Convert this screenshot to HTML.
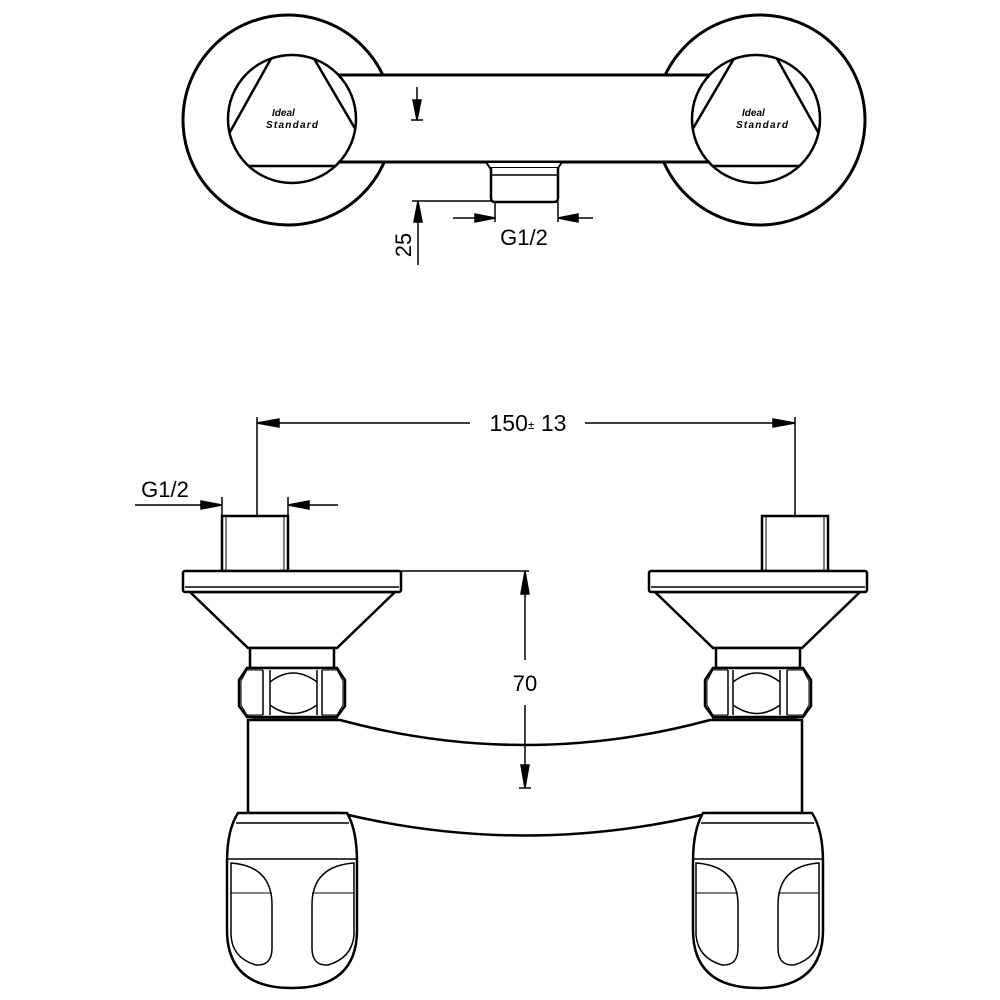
<!DOCTYPE html>
<html><head><meta charset="utf-8"><style>
html,body{margin:0;padding:0;background:#fff}
svg{display:block}
text{font-family:"Liberation Sans",sans-serif;fill:#000}
</style></head><body>
<svg width="1000" height="1000" viewBox="0 0 1000 1000" xmlns="http://www.w3.org/2000/svg">
<defs>
<clipPath id="cL"><circle cx="292" cy="119" r="64"/></clipPath>
<g id="topunit">
  <circle cx="288" cy="120" r="105" fill="#fff" stroke="#000" stroke-width="3"/>
</g>
<g id="topinner">
  <g fill="none" stroke="#000" stroke-width="2.5">
    <polygon points="292,21 211,166 377,166" clip-path="url(#cL)"/>
    <circle cx="292" cy="119" r="64"/>
  </g>
</g>
<g id="unit" fill="#fff" stroke="#000" stroke-width="2.5">
  <rect x="222" y="516" width="66" height="55"/>
  <line x1="226" y1="516" x2="226" y2="571" stroke-width="1"/>
  <line x1="284" y1="516" x2="284" y2="571" stroke-width="1"/>
  <polygon points="190,592 395,592 337,648 248,648"/>
  <rect x="183" y="571" width="218" height="21" rx="2"/>
  <line x1="185" y1="587" x2="399" y2="587" stroke-width="1.5"/>
  <rect x="250" y="648" width="84" height="20"/>
  <polygon points="247,668 337,668 345,680 345,706 337,717 247,717 239,706 239,680"/>
  <line x1="263" y1="670" x2="263" y2="715" stroke-width="1.5"/>
  <line x1="270" y1="670" x2="270" y2="715" stroke-width="1.5"/>
  <line x1="317" y1="670" x2="317" y2="715" stroke-width="1.5"/>
  <line x1="322" y1="670" x2="322" y2="715" stroke-width="1.5"/>
  <path d="M270,682 Q293,664 317,682 M270,705 Q293,722 317,705" fill="none" stroke-width="1.5"/>
  <path d="M263,670 L247,670 L241,681 L241,705 L247,715 L263,715 M322,670 L337,670 L343,681 L343,705 L337,715 L322,715" fill="none" stroke-width="1"/>
  <line x1="252" y1="719" x2="338" y2="719" stroke-width="1.5"/>
  <path d="M238,813 L347,813 Q357,830 357,862 L357,930 Q357,988 292,988 Q227,988 227,930 L227,862 Q227,830 238,813 Z"/>
  <line x1="236" y1="823" x2="349" y2="823" stroke-width="1.5"/>
  <line x1="228" y1="859" x2="356" y2="859" stroke-width="1.5"/>
  <path d="M231,863 Q272,866 272,905 L272,948 Q272,966 256,965 Q232,958 231,935 Z" fill="none" stroke-width="1.5"/>
  <line x1="231" y1="893" x2="272" y2="893" stroke-width="1"/>
  <path d="M354,863 Q312,866 312,905 L312,948 Q312,966 328,965 Q352,958 354,935 Z" fill="none" stroke-width="1.5"/>
  <line x1="312" y1="893" x2="354" y2="893" stroke-width="1"/>
</g>
</defs>

<!-- TOP VIEW -->
<use href="#topunit"/>
<use href="#topunit" transform="translate(1048,0) scale(-1,1)"/>
<rect x="338" y="75" width="372" height="87" fill="#fff" stroke="none"/>
<line x1="338" y1="75" x2="710" y2="75" stroke="#000" stroke-width="3"/>
<line x1="338" y1="162" x2="710" y2="162" stroke="#000" stroke-width="3"/>
<use href="#topinner"/>
<use href="#topinner" transform="translate(1048,0) scale(-1,1)"/>
<g font-family="Liberation Serif,serif" font-weight="bold" font-style="italic">
<text x="272" y="116" font-size="10">Ideal</text>
<text x="266" y="128" font-size="10" textLength="52">Standard</text>
<text x="742" y="116" font-size="10">Ideal</text>
<text x="736" y="128" font-size="10" textLength="52">Standard</text>
</g>
<!-- outlet -->
<g fill="#fff" stroke="#000" stroke-width="2.5">
  <path d="M486,162 L562,162 L558,168 L490,168 Z" stroke-width="2"/>
  <path d="M491,168 L491,198 Q491,202 495,202 L554,202 Q558,202 558,198 L558,168"/>
  <line x1="492" y1="175" x2="557" y2="175" stroke-width="1.5"/>
</g>
<g stroke="#000" stroke-width="1.5" fill="#000">
  <line x1="417" y1="87" x2="417" y2="120"/>
  <polygon points="413,100 421,100 417,120"/>
  <line x1="411" y1="120" x2="423" y2="120"/>
  <line x1="412" y1="201" x2="491" y2="201"/>
  <line x1="418" y1="201" x2="418" y2="265"/>
  <polygon points="414,222 422,222 418,201"/>
  <line x1="453" y1="218" x2="495" y2="218"/>
  <polygon points="475,214 475,222 495,218"/>
  <line x1="558" y1="218" x2="593" y2="218"/>
  <polygon points="578,214 578,222 558,218"/>
  <line x1="495" y1="202" x2="495" y2="222"/>
  <line x1="558" y1="202" x2="558" y2="222"/>
</g>
<text x="524" y="245" font-size="22" text-anchor="middle">G1/2</text>
<text x="0" y="0" font-size="22" text-anchor="middle" transform="translate(411,245) rotate(-90)">25</text>

<!-- FRONT VIEW -->
<path d="M248,720 L340,720 Q525,770 710,720 L802,720 L802,813 L710,813 Q525,858 340,813 L248,813 Z" fill="#fff" stroke="#000" stroke-width="2.5"/>
<use href="#unit"/>
<use href="#unit" transform="translate(1050,0) scale(-1,1)"/>

<g stroke="#000" stroke-width="1.5" fill="#000">
  <line x1="257" y1="423" x2="470" y2="423"/>
  <line x1="585" y1="423" x2="795" y2="423"/>
  <polygon points="257,423 279,419 279,427"/>
  <polygon points="795,423 773,419 773,427"/>
  <line x1="257" y1="417" x2="257" y2="516"/>
  <line x1="795" y1="417" x2="795" y2="516"/>
  <line x1="135" y1="505" x2="222" y2="505"/>
  <polygon points="222,505 201,501 201,509"/>
  <line x1="288" y1="505" x2="338" y2="505"/>
  <polygon points="288,505 309,501 309,509"/>
  <line x1="222" y1="497" x2="222" y2="516"/>
  <line x1="288" y1="497" x2="288" y2="516"/>
  <line x1="401" y1="571" x2="529" y2="571"/>
  <line x1="525" y1="571" x2="525" y2="660"/>
  <line x1="525" y1="705" x2="525" y2="788"/>
  <polygon points="525,571 521,594 529,594"/>
  <polygon points="525,788 521,765 529,765"/>
  <line x1="519" y1="788" x2="531" y2="788"/>
</g>
<text x="528" y="431" font-size="23" text-anchor="middle">150<tspan font-size="12" dy="-2">±</tspan><tspan dy="2"> 13</tspan></text>
<text x="165" y="497" font-size="22" text-anchor="middle">G1/2</text>
<text x="525" y="691" font-size="22" text-anchor="middle">70</text>
</svg>
</body></html>
